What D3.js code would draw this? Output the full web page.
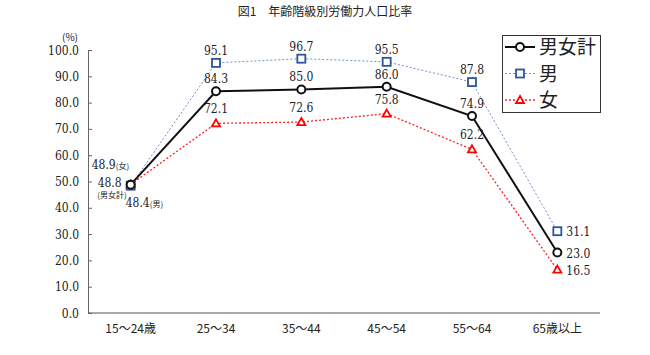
<!DOCTYPE html>
<html><head><meta charset="utf-8">
<script src="https://cdn.jsdelivr.net/npm/d3@7"></script>
<style>body{margin:0;background:#fff}svg{display:block}</style>
</head><body><svg id="c" width="650" height="355"></svg>
<script>
const title = "図1　年齢階級別労働力人口比率";
const categories = ["15～24歳","25～34","35～44","45～54","55～64","65歳以上"];
const totalVals = [48.8, 84.3, 85.0, 86.0, 74.9, 23.0];
const maleVals = [48.4, 95.1, 96.7, 95.5, 87.8, 31.1];
const femaleVals = [48.9, 72.1, 72.6, 75.8, 62.2, 16.5];
const yTicks = [0,10,20,30,40,50,60,70,80,90,100];
const seriesNames = ["男女計","男","女"];

const svg = d3.select("#c");
const numFont = "'DejaVu Serif Condensed', 'DejaVu Serif', serif";
const jpFont = "'Noto Sans CJK JP', sans-serif";
const x = d3.scalePoint().domain(categories).range([88, 600]).padding(0.5);
const y = d3.scaleLinear().domain([0, 100]).range([313, 50]);

svg.append("text").attr("x", 325).attr("y", 16).attr("text-anchor","middle")
  .attr("font-family", jpFont).attr("font-size", 12).attr("fill","#222").text(title);

const ya = svg.append("g").attr("transform","translate(88,0)")
  .call(d3.axisRight(y).tickValues(yTicks).tickSize(4).tickFormat(""));
ya.selectAll("path,line").attr("stroke","#666");
svg.selectAll(".ytl").data(yTicks).join("text").attr("class","ytl")
  .attr("x", 79).attr("y", d => y(d)+4.5).attr("text-anchor","end")
  .attr("font-family", numFont).attr("font-stretch","condensed").attr("font-size", 12).attr("fill","#222")
  .text(d => d.toFixed(1));
svg.append("text").attr("x", 62).attr("y", 41).attr("font-family", jpFont)
  .attr("font-size", 10).attr("fill","#222").text("(%)");

const xa = svg.append("g").attr("transform","translate(0,313)")
  .call(d3.axisBottom(x).tickSize(0).tickFormat(""));
xa.select("path").attr("d","M88,0H600").attr("stroke","#555");
svg.selectAll(".xtl").data(categories).join("text").attr("class","xtl")
  .attr("x", d => x(d)).attr("y", 333).attr("text-anchor","middle")
  .attr("font-family", jpFont).attr("font-size", 12).attr("fill","#222")
  .text(d => d);

const line = d3.line().x((d,i) => x(categories[i])).y(d => y(d));
const styles = [
  {vals: totalVals, color:"#111", lw:2, dash:null, mark:"circle", mcol:"#111"},
  {vals: maleVals, color:"#7190c4", lw:1, dash:"2,2", mark:"square", mcol:"#2a5597"},
  {vals: femaleVals, color:"#ff2020", lw:1.3, dash:"2,2", mark:"tri", mcol:"#ff0000"}
];
[1,2,0].forEach(k => {
  const s = styles[k];
  svg.append("path").attr("d", line(s.vals)).attr("fill","none")
    .attr("stroke", s.color).attr("stroke-width", s.lw)
    .attr("stroke-dasharray", s.dash);
});
function marker(g, type, cx, cy, col) {
  if (type === "circle") g.append("circle").attr("cx",cx).attr("cy",cy).attr("r",4)
    .attr("fill","#fff").attr("stroke",col).attr("stroke-width",2);
  else if (type === "square") g.append("rect").attr("x",cx-4).attr("y",cy-4).attr("width",8).attr("height",8)
    .attr("fill","#fff").attr("stroke",col).attr("stroke-width",1.8);
  else g.append("path").attr("d",`M${cx},${cy-4}L${cx+4},${cy+3}L${cx-4},${cy+3}Z`)
    .attr("fill","#fff").attr("stroke",col).attr("stroke-width",1.8);
}
const mg = svg.append("g");
[1,2,0].forEach(k => {
  const s = styles[k];
  s.vals.forEach((v,i) => marker(mg, s.mark, x(categories[i]), y(v), s.mcol));
});

const lab = svg.append("g").attr("font-family", numFont).attr("font-stretch","condensed")
  .attr("font-size", 12).attr("fill","#222");
styles.forEach((s,k) => {
  s.vals.forEach((v,i) => {
    const cx = x(categories[i]), cy = y(v);
    if (i === 0) return;
    if (i === 5) {
      lab.append("text").attr("x", cx+9).attr("y", cy+5).text(v.toFixed(1));
    } else {
      const dy = k === 2 ? -10 : -8;
      lab.append("text").attr("x", cx).attr("y", cy+dy).attr("text-anchor","middle").text(v.toFixed(1));
    }
  });
});
const c0 = x(categories[0]);
const t1 = lab.append("text").attr("x", c0-39).attr("y", y(femaleVals[0])-15);
t1.append("tspan").text(femaleVals[0].toFixed(1));
t1.append("tspan").attr("font-family", jpFont).attr("font-size", 8).text("(女)");
lab.append("text").attr("x", c0-9).attr("y", y(totalVals[0])+2).attr("text-anchor","end").text(totalVals[0].toFixed(1));
lab.append("text").attr("x", c0-4).attr("y", y(totalVals[0])+13).attr("text-anchor","end")
  .attr("font-family", jpFont).attr("font-size", 8).text("(男女計)");
const t2 = lab.append("text").attr("x", c0-5).attr("y", y(maleVals[0])+21);
t2.append("tspan").text(maleVals[0].toFixed(1));
t2.append("tspan").attr("font-family", jpFont).attr("font-size", 8).text("(男)");

const lg = svg.append("g");
lg.append("rect").attr("x",502.5).attr("y",35.5).attr("width",98).attr("height",77)
  .attr("fill","#fff").attr("stroke","#333").attr("stroke-width",1);
styles.forEach((s,k) => {
  const ly = 47 + k*26.5;
  lg.append("line").attr("x1",505).attr("x2",535).attr("y1",ly).attr("y2",ly)
    .attr("stroke", s.color).attr("stroke-width", s.lw).attr("stroke-dasharray", s.dash);
  marker(lg, s.mark, 520, ly, s.mcol);
  lg.append("text").attr("x",539).attr("y",ly+7).attr("font-family", jpFont)
    .attr("font-size",19).attr("fill","#222").text(seriesNames[k]);
});
</script></body></html>
